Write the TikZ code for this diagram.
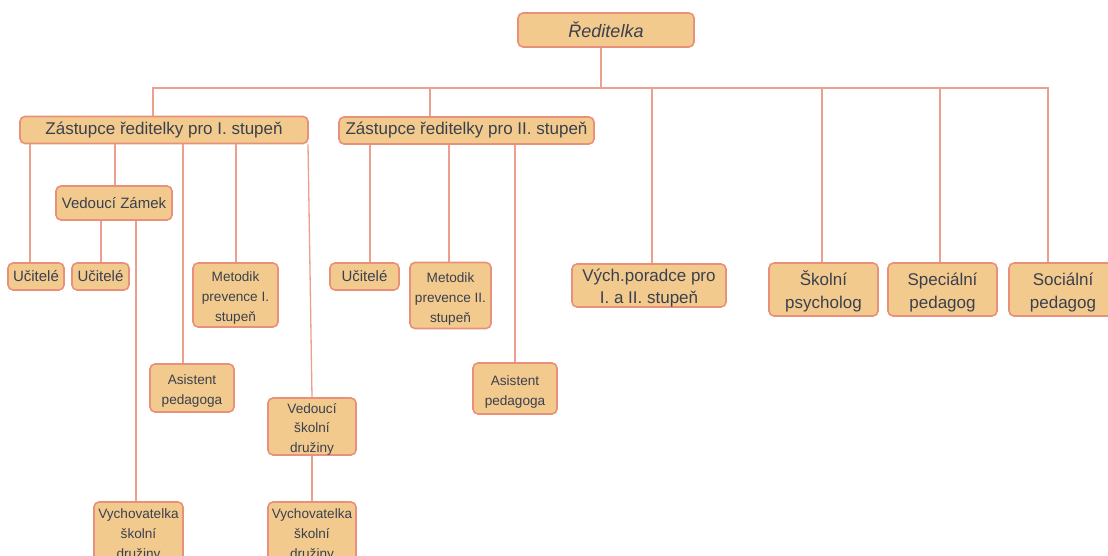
\documentclass[tikz,border=0pt]{standalone}
\usepackage{fontspec}
\setmainfont{Liberation Sans}
\definecolor{boxfill}{HTML}{F2CA8D}
\definecolor{boxline}{HTML}{E8907A}
\definecolor{linkline}{HTML}{EC9F8F}
\definecolor{txt}{HTML}{3B404E}
% taller first line, so that multi-line texts sit a little low
\newcommand{\topgap}[1]{\rule{0pt}{#1}}
\begin{document}
\begin{tikzpicture}[x=1pt,y=-1pt,text=txt]
% Box styles: large, medium and small text
\tikzstyle{box}=[draw=boxline,fill=boxfill,line width=1.6pt,rounded corners=5pt,inner sep=0pt,align=center]
\tikzstyle{big box}=[box,font=\fontsize{17}{22}\selectfont]
\tikzstyle{mid box}=[box,font=\fontsize{15}{18}\selectfont]
\tikzstyle{small box}=[box,font=\fontsize{13.6}{20}\selectfont]
\tikzstyle{link}=[draw=linkline,line width=1.3pt]
\useasboundingbox (0,0) rectangle (1108,556);
% Top level
\node[big box,font=\fontsize{18}{22}\selectfont\itshape,minimum width=176pt,minimum height=34pt] (red) at (606,30) {Ředitelka};
\coordinate (bus) at (601,88);
\node[big box,minimum width=288pt,minimum height=27pt] (zI) at (164,130) {Zástupce ředitelky pro I. stupeň};
\node[big box,minimum width=255pt,minimum height=27pt] (zII) at (466.5,130.5) {Zástupce ředitelky pro II. stupeň};
\node[big box,minimum width=154pt,minimum height=43pt] (vych) at (649,285.5) {\topgap{17pt}Vých.poradce pro\\I. a II. stupeň};
\node[big box,font=\fontsize{17}{23}\selectfont,minimum width=109pt,minimum height=53pt] (psy) at (823.5,289.5) {\topgap{19pt}Školní\\psycholog};
\node[big box,font=\fontsize{17}{23}\selectfont,minimum width=109pt,minimum height=53pt] (spec) at (942.5,289.5) {\topgap{19pt}Speciální\\pedagog};
\node[big box,font=\fontsize{17}{23}\selectfont,minimum width=108pt,minimum height=53pt] (soc) at (1063,289.5) {\topgap{19pt}Sociální\\pedagog};
% First level
\node[mid box,minimum width=116pt,minimum height=34pt] (vz) at (114,203) {Vedoucí Zámek};
\node[mid box,minimum width=56pt,minimum height=27pt] (uc1) at (36,276.5) {Učitelé};
\node[mid box,minimum width=57pt,minimum height=27pt] (uc2) at (100.5,276.5) {Učitelé};
\node[small box,minimum width=85pt,minimum height=64pt] (met1) at (235.5,295) {\topgap{16pt}Metodik\\prevence I.\\stupeň};
\node[small box,minimum width=84pt,minimum height=48pt] (as1) at (192,388) {\topgap{16pt}Asistent\\pedagoga};
\node[small box,font=\fontsize{13.6}{19.5}\selectfont,minimum width=88pt,minimum height=57pt] (vsd) at (312,426.5) {\topgap{15pt}Vedoucí\\školní\\družiny};
\node[small box,minimum width=89pt,minimum height=60pt] (vy1) at (138.5,532) {\topgap{15pt}Vychovatelka\\školní\\družiny};
\node[small box,minimum width=88pt,minimum height=60pt] (vy2) at (312,532) {\topgap{15pt}Vychovatelka\\školní\\družiny};
% Second level
\node[mid box,minimum width=69pt,minimum height=27pt] (uc3) at (364.5,276.5) {Učitelé};
\node[small box,minimum width=81pt,minimum height=66pt] (met2) at (450.5,295.5) {\topgap{16pt}Metodik\\prevence II.\\stupeň};
\node[small box,minimum width=84pt,minimum height=51pt] (as2) at (515,388.5) {\topgap{16pt}Asistent\\pedagoga};
% Connectors
\draw[link] ([xshift=-5pt]red.south) -- (bus);
\draw[link] ([xshift=-11pt]zI.north) |- (bus);
\draw[link] ([xshift=-36.5pt]zII.north) |- (bus);
\draw[link] ([xshift=3pt]vych.north) |- (bus);
\draw[link] ([xshift=-1.5pt]psy.north) |- (bus);
\draw[link] ([xshift=-2.5pt]spec.north) |- (bus);
\draw[link] ([xshift=-15pt]soc.north) |- (bus);
\draw[link] ([xshift=-134pt]zI.south) -- ([xshift=-6pt]uc1.north);
\draw[link] ([xshift=-49pt]zI.south) -- ([xshift=1pt]vz.north);
\draw[link] ([xshift=19pt]zI.south) -- ([xshift=-9pt]as1.north);
\draw[link] ([xshift=72pt]zI.south) -- ([xshift=0.5pt]met1.north);
\draw[link] ([xshift=144pt]zI.south) -- (vsd.north);
\draw[link] ([xshift=-13pt]vz.south) -- ([xshift=0.5pt]uc2.north);
\draw[link] ([xshift=22pt]vz.south) -- ([xshift=-2.5pt]vy1.north);
\draw[link] (vsd.south) -- (vy2.north);
\draw[link] ([xshift=-96.5pt]zII.south) -- ([xshift=5.5pt]uc3.north);
\draw[link] ([xshift=-17.5pt]zII.south) -- ([xshift=-1.5pt]met2.north);
\draw[link] ([xshift=48.5pt]zII.south) -- (as2.north);
\end{tikzpicture}
\end{document}
